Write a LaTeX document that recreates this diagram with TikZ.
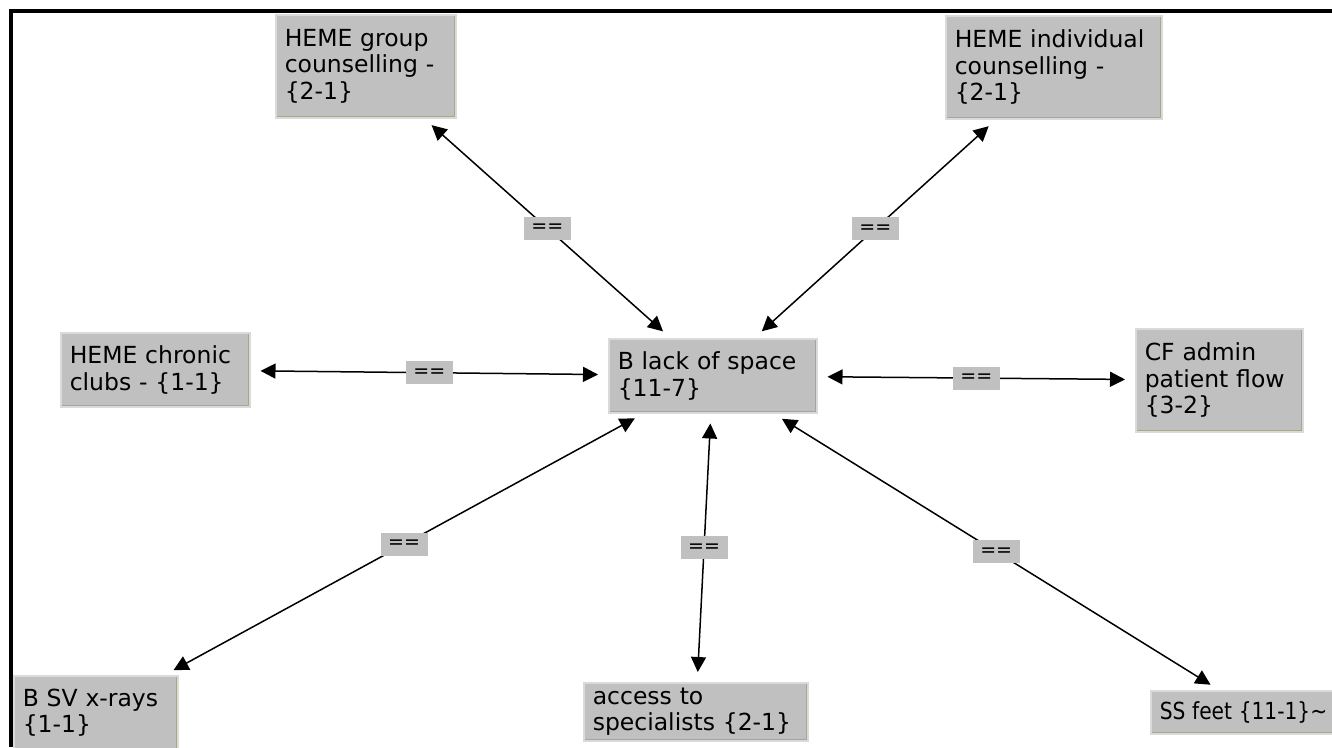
\documentclass[tikz,border=0pt]{standalone}
\usepackage{fontspec}
\setmainfont{DejaVu Sans}
\usetikzlibrary{arrows.meta}

\definecolor{boxgrey}{HTML}{C0C0C0}
\definecolor{boxedge}{HTML}{DADADA}
\definecolor{boxshade}{HTML}{A8A592}

\begin{document}
\begin{tikzpicture}
[x=1pt,y=-1pt,
  arrowDecorate/.style={{Triangle[length=15pt,width=15pt]}-{Triangle[length=15pt,width=15pt]},%
    line width=1.5pt,shorten <=10pt,shorten >=10pt},%
  nodeDecorate/.style={shape=rectangle,fill=boxgrey,draw=boxedge,line width=1.5pt,%
    anchor=north west,align=left,inner xsep=9pt,inner ysep=3pt,%
    font=\fontsize{23.5}{26.5}\selectfont,%
    path picture={\draw[boxshade,line width=1.2pt]
      ([xshift=1.5pt,yshift=1.5pt]path picture bounding box.south west) --
      ([xshift=-1.5pt,yshift=1.5pt]path picture bounding box.south east) --
      ([xshift=-1.5pt,yshift=-1.5pt]path picture bounding box.north east);}},%
  labelDecorate/.style={fill=boxgrey,inner sep=0pt,minimum width=47pt,minimum height=23pt,%
    font=\fontsize{19}{19}\selectfont}]
\useasboundingbox (0,0) rectangle (1332,747);
%% frame on the left and top
\draw[line width=4pt,line join=miter] (11,747) -- (11,11) -- (1332,11);
%% nodes or boxes
\foreach \nodename/\x/\y/\tw/\h/\txt in {
  group/275/14/162/103/HEME group\\counselling -\\\{2-1\},
  indiv/945/15/198/103/HEME individual\\counselling -\\\{2-1\},
  chronic/60/332/171/74/HEME chronic\\clubs - \{1-1\},
  space/608/338/190/74/B lack of space\\\{11-7\},
  admin/1135/328/149/103/CF admin\\patient flow\\\{3-2\},
  xrays/13/675/146/74/B SV x-rays\\\{1-1\},
  spec/583/682/206/58/access to\\specialists \{2-1\},
  feet/1150/690/190/43/\scalebox{0.86}[1]{SS feet \{11-1\}\textasciitilde}}
{
  \node (\nodename) at (\x,\y) [nodeDecorate,text width=\tw pt,minimum height=\h pt] {\txt};
}
%% edges or lines
\path
\foreach \startnode/\endnode in {space/group, space/indiv, space/chronic, space/admin,
  space/xrays, space/spec, space/feet}
{
  (\startnode) edge[arrowDecorate] node[labelDecorate] {==} (\endnode)
};
\end{tikzpicture}
\end{document}
